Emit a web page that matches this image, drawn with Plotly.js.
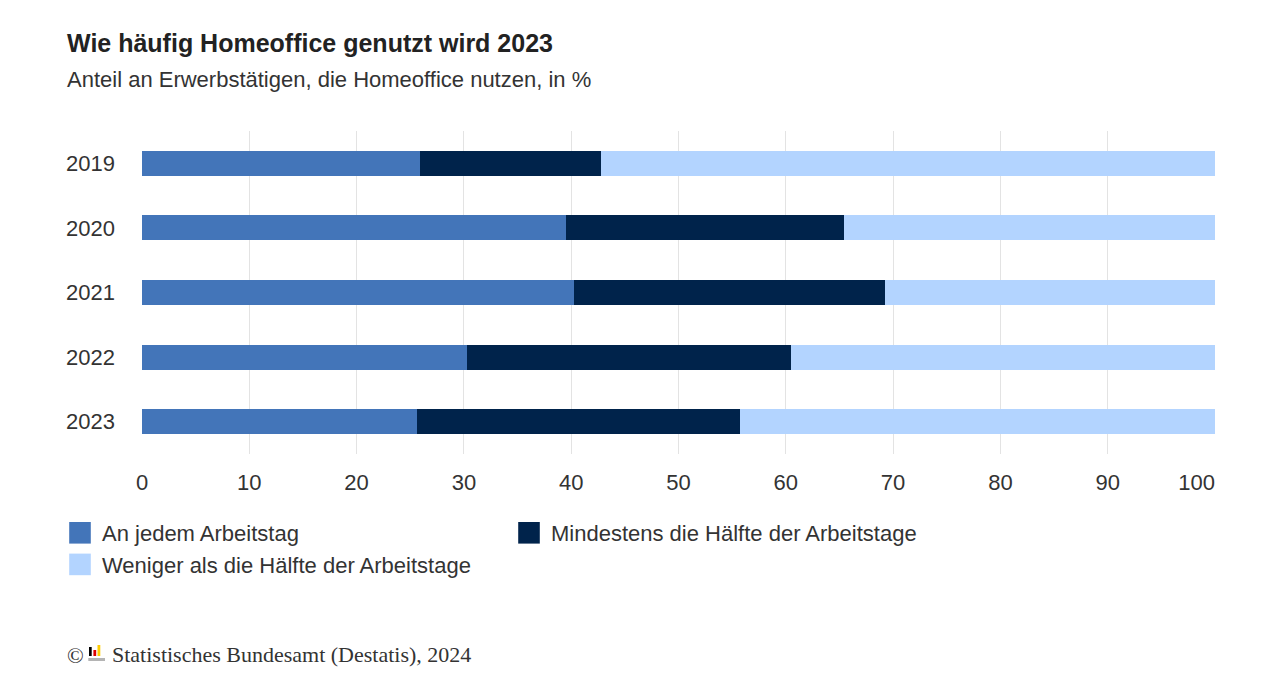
<!DOCTYPE html>
<html>
<head>
<meta charset="utf-8">
<script src="https://cdn.plot.ly/plotly-3.0.1.min.js"></script>
<style>html,body{margin:0;padding:0;background:#fff;}#chart{width:1280px;height:685px;}</style>
</head>
<body>
<div id="chart"></div>
<script>
// Data
const years = ['2019', '2020', '2021', '2022', '2023'];
const seriesNames = ['An jedem Arbeitstag', 'Mindestens die Hälfte der Arbeitstage', 'Weniger als die Hälfte der Arbeitstage'];
const jedenTag = [25.9, 39.5, 40.3, 30.3, 25.6];
const mindHaelfte = [16.9, 25.9, 28.9, 30.2, 30.1];
const wenigerHaelfte = [57.2, 34.6, 30.8, 39.5, 44.3];
const xTicks = [0, 10, 20, 30, 40, 50, 60, 70, 80, 90, 100];

const colors = ['#4375b9', '#00234b', '#b3d4ff'];
const W = 1280, H = 685;
const M = {l: 142, r: 65, t: 131, b: 231};
const PW = W - M.l - M.r, PH = H - M.t - M.b;
const px = x => (x - M.l) / PW;          // pixel x -> paper x
const py = y => (H - M.b - y) / PH;      // pixel y -> paper y

const FONT = '"Liberation Sans", Arial, sans-serif';
const SERIF = '"Liberation Serif", "Times New Roman", serif';

const values = [jedenTag, mindHaelfte, wenigerHaelfte];
const traces = values.map((v, i) => ({
  type: 'bar',
  orientation: 'h',
  name: seriesNames[i],
  y: years,
  x: v,
  marker: {color: colors[i], line: {width: 0}},
  hoverinfo: 'x+name'
}));

// last label kept inside the plot edge (right-aligned look) with trailing figure spaces
const xTickText = xTicks.map((t, i) => i === xTicks.length - 1 ? String(t) + '\u2007\u2007\u2007' : String(t));

function logoRect(x0, y0, x1, y1, c) {
  return {type: 'rect', xref: 'paper', yref: 'paper', x0: px(x0), x1: px(x1), y0: py(y1), y1: py(y0),
    fillcolor: c, line: {width: 0}, layer: 'above'};
}

const layout = {
  width: W, height: H,
  margin: M,
  paper_bgcolor: '#ffffff',
  plot_bgcolor: '#ffffff',
  barmode: 'stack',
  bargap: 0.613,
  font: {family: FONT, color: '#333333', size: 22},
  title: {
    text: '<b>Wie häufig Homeoffice genutzt wird 2023</b>',
    font: {family: FONT, size: 25, color: '#222222'},
    xref: 'container', yref: 'container',
    x: 67 / W, xanchor: 'left',
    y: 1 - 43 / H, yanchor: 'middle'
  },
  xaxis: {
    range: [0, 100],
    tickvals: xTicks,
    ticktext: xTickText,
    showgrid: true,
    gridcolor: '#e3e3e3',
    gridwidth: 1,
    zeroline: false,
    showline: false,
    ticks: '',
    ticklabelstandoff: 13,
    tickfont: {family: FONT, size: 22, color: '#333333'},
    fixedrange: true
  },
  yaxis: {
    type: 'category',
    categoryorder: 'array',
    categoryarray: years,
    autorange: 'reversed',
    showgrid: false,
    zeroline: false,
    showline: false,
    ticks: '',
    ticklabelstandoff: 26,
    tickfont: {family: FONT, size: 22, color: '#333333'},
    fixedrange: true
  },
  showlegend: true,
  legend: {
    orientation: 'h',
    x: px(62), xanchor: 'left',
    y: py(512), yanchor: 'top',
    entrywidth: 404,
    entrywidthmode: 'pixels',
    traceorder: 'normal',
    font: {family: FONT, size: 22, color: '#333333'},
    bgcolor: 'rgba(0,0,0,0)'
  },
  annotations: [
    {text: 'Anteil an Erwerbstätigen, die Homeoffice nutzen, in %', xref: 'paper', yref: 'paper',
      x: px(65), xanchor: 'left', y: py(80), yanchor: 'middle', showarrow: false,
      font: {family: FONT, size: 22, color: '#333333'}},
    {text: '©', xref: 'paper', yref: 'paper', x: px(65), xanchor: 'left', y: py(655), yanchor: 'middle',
      showarrow: false, font: {family: SERIF, size: 22, color: '#333333'}},
    {text: 'Statistisches Bundesamt (Destatis), 2024', xref: 'paper', yref: 'paper', x: px(110), xanchor: 'left',
      y: py(654), yanchor: 'middle', showarrow: false, font: {family: SERIF, size: 22, color: '#333333'}}
  ],
  shapes: [
    logoRect(89, 647, 91.7, 656, '#000000'),
    logoRect(93.4, 650, 96.2, 656, '#dd0000'),
    logoRect(97.5, 645, 100.3, 656, '#ffcc00'),
    logoRect(88.3, 658, 105, 661, '#b4b4b4')
  ]
};

Plotly.newPlot('chart', traces, layout, {displayModeBar: false, staticPlot: true}).then(gd => {
  // enlarge the legend swatches to match the reference's bigger squares
  gd.querySelectorAll('.legendpoints path').forEach(p => {
    p.setAttribute('transform', 'translate(18,0) scale(1.8)');
  });
});
</script>
</body>
</html>
